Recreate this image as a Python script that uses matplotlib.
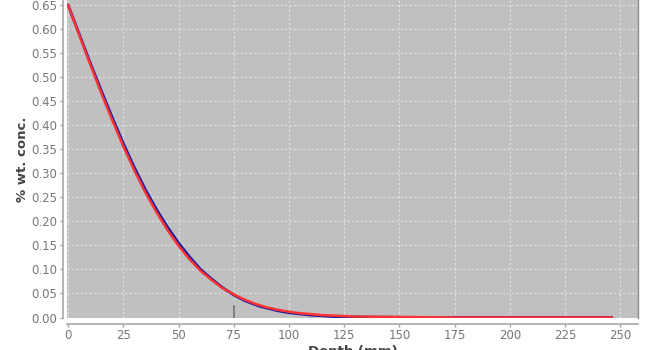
import matplotlib.pyplot as plt

# depth (mm) and concentration (% wt.) for the two profiles
depth_blue = [0, 5, 10, 15, 20, 25, 30, 35, 40, 45, 50, 55, 60, 65, 70, 75,
              80, 87, 95, 100, 110, 120, 130, 150, 175, 200, 225, 246]
conc_blue = [0.650, 0.590, 0.530, 0.472, 0.416, 0.362, 0.312, 0.266, 0.225,
             0.188, 0.155, 0.126, 0.100, 0.080, 0.062, 0.047, 0.035, 0.023,
             0.014, 0.010, 0.005, 0.002, 0.001, 0.0005, 0.0, 0.0, 0.0, 0.0]

depth_red = [0, 5, 10, 15, 20, 25, 30, 35, 40, 45, 50, 55, 60, 65, 70, 75,
             80, 85, 90, 95, 100, 105, 110, 115, 120, 125, 130, 140, 150,
             165, 175, 200, 225, 246]
conc_red = [0.650, 0.588, 0.527, 0.467, 0.410, 0.356, 0.306, 0.260, 0.219,
            0.182, 0.149, 0.121, 0.097, 0.078, 0.061, 0.048, 0.037, 0.028,
            0.021, 0.016, 0.012, 0.009, 0.007, 0.005, 0.004, 0.003, 0.002,
            0.0015, 0.001, 0.0005, 0.0, 0.0, 0.0, 0.0]

x_ticks = [0, 25, 50, 75, 100, 125, 150, 175, 200, 225, 250]
y_ticks = [0.00, 0.05, 0.10, 0.15, 0.20, 0.25, 0.30, 0.35, 0.40, 0.45,
           0.50, 0.55, 0.60, 0.65]
marker_depth = 75

fig = plt.figure(figsize=(6.5, 3.5), dpi=100)
ax = fig.add_axes([67 / 650, 1 - 318 / 350, 571 / 650, 318 / 350])
ax.set_facecolor("#c0c0c0")

ax.plot(depth_blue, conc_blue, color="#1a1aa0", lw=2.0, zorder=3)
ax.plot(depth_red, conc_red, color="#ff3333", lw=1.8, zorder=4)

# small dark tick inside the plot at 75 mm
ax.axvline(marker_depth, ymin=0, ymax=0.038, color="#707070", lw=1.2, zorder=2)

ax.set_xlim(-0.5, 258)
ax.set_ylim(-0.001, 0.6605)
ax.set_xticks(x_ticks)
ax.set_yticks(y_ticks)
ax.set_yticklabels([f"{v:.2f}" for v in y_ticks])

ax.grid(True, color="#e2e2e2", linestyle=(0, (2, 2)), lw=0.8)
ax.set_axisbelow(True)

ax.spines["top"].set_visible(False)
ax.spines["right"].set_color("#8a8a8a")
ax.spines["right"].set_linewidth(1.0)
ax.spines["left"].set_position(("outward", 3))
ax.spines["bottom"].set_position(("outward", 4))
for s in ["left", "bottom"]:
    ax.spines[s].set_color("#a8a8a8")
    ax.spines[s].set_linewidth(1.2)

ax.tick_params(axis="both", colors="#a0a0a0", labelcolor="#777777",
               labelsize=8.5, length=2, width=1, pad=2)

ax.set_ylabel("% wt. conc.", fontsize=9.5, fontweight="bold", color="#444444",
              labelpad=2)
fig.text(353 / 650, 5 / 350, "Depth (mm)", fontsize=9.5, fontweight="bold",
         color="#444444", ha="center", va="top")

fig.savefig("out.png", dpi=100)
